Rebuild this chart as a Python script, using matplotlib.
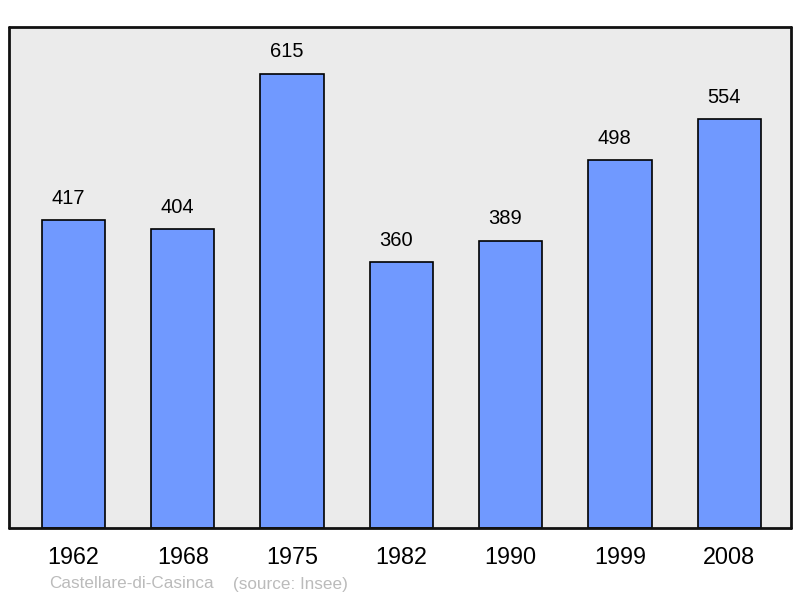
import matplotlib
matplotlib.use("Agg")
import matplotlib.pyplot as plt

years = ["1962", "1968", "1975", "1982", "1990", "1999", "2008"]
population = [417, 404, 615, 360, 389, 498, 554]
commune = "Castellare-di-Casinca"
source = "(source: Insee)"

plt.rcParams['font.family'] = ['Liberation Sans', 'DejaVu Sans']

fig = plt.figure(figsize=(8, 5.98), dpi=100)
ax = fig.add_axes([0.01125, 0.1171, 0.9775, 0.8378])
ax.set_facecolor('#ebebeb')

x = list(range(len(years)))
bars = ax.bar(x, population, width=0.578, color='#7099ff', edgecolor='black',
              linewidth=1.2, zorder=2)
ax.set_xlim(-0.59, 6.565)
ax.set_ylim(0, 678)

for xi, v in zip(x, population):
    ax.annotate(str(v), (xi, v), xytext=(-3.8, 15.5), textcoords='offset points',
                ha='center', va='center', fontsize=14.5, color='black')

ax.set_xticks(x)
ax.set_xticklabels(years, fontsize=16.8)
ax.tick_params(axis='x', length=0, pad=13)
ax.set_yticks([])
for s in ax.spines.values():
    s.set_linewidth(2)
    s.set_color('#111111')
    s.set_capstyle('round')
    s.set_joinstyle('round')

fig.text(49 / 800, 1 - 584 / 598, commune, fontsize=12.3, color='#bbbbbb',
         ha='left', va='center')
fig.text(233 / 800, 1 - 584 / 598, source, fontsize=12.3, color='#bbbbbb',
         ha='left', va='center')

fig.savefig('out.png', dpi=100)
